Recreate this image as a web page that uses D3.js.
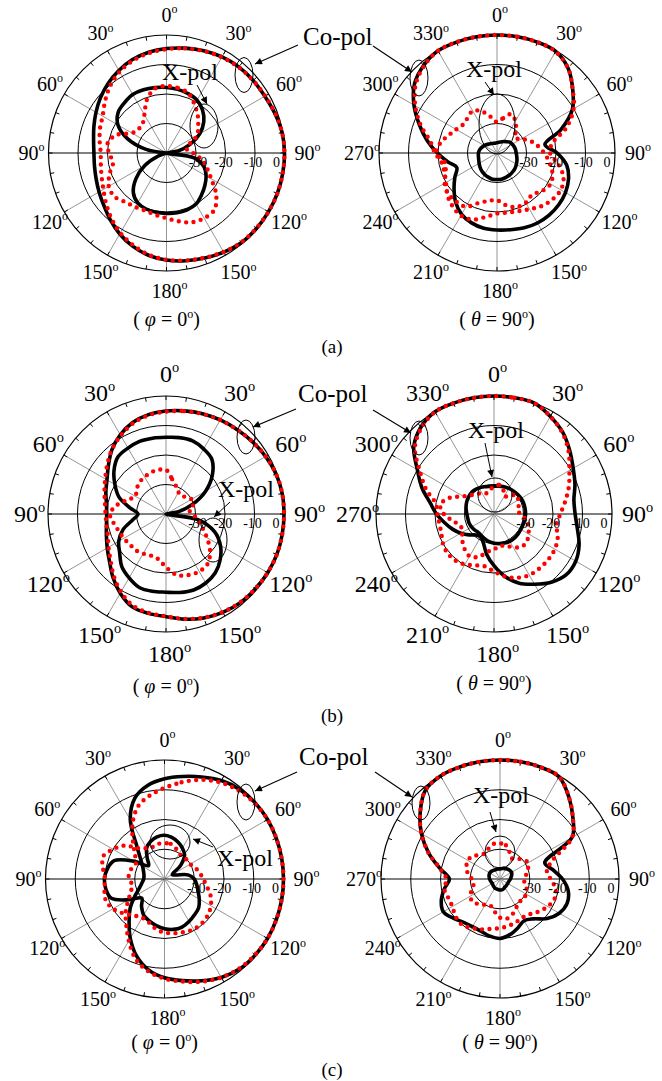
<!DOCTYPE html>
<html><head><meta charset="utf-8">
<script src="https://cdn.jsdelivr.net/npm/d3@7"></script>
<style>body{margin:0;background:#fff}svg{display:block}text{font-family:"Liberation Serif","Times New Roman",Tinos,serif}</style>
</head><body>
<script>
// ---------- DATA ----------
const ANGLES = [0,10,20,30,40,50,60,70,80,90,100,110,120,130,140,150,160,170,180,190,200,210,220,230,240,250,260,270,280,290,300,310,320,330,340,350];
const SPOKES = [0,30,60,90,120,150,180,210,240,270,300,330];
const TICKS10 = d3.range(0,360,10);
const DB_TICKS = [-30,-20,-10,0];
const DB_LABELS = ["-30","-20","-10","0"];

// (a) phi = 0
const aL_coSim  = [-4.6,-3.9,-3.1,-2.4,-1.9,-1.7,-1.5,-0.9,-0.2,0,0,0,-0.1,-0.2,-0.4,-1.2,-2.1,-2.9,-3.7,-4.8,-6.4,-8.3,-10.4,-12.3,-13.6,-14.6,-15.2,-15.4,-14.9,-13.8,-12.4,-10.8,-9.2,-7.7,-6.3,-5.3];
const aL_coMeas = [-4.8,-4,-3.2,-2.5,-2,-1.7,-1.4,-0.8,-0.2,0.1,0,0,-0.1,-0.3,-0.5,-1.3,-2.2,-3,-3.8,-5,-6.8,-8.7,-11,-13.3,-15.3,-16.6,-17.4,-17.7,-17,-16,-15,-12.8,-10.3,-8.2,-6.7,-5.6];
const aL_xSim   = [-17.8,-18.1,-18.6,-19.3,-21,-23.5,-27,-31.5,-36,-40,-30.5,-26.5,-24.5,-23,-21.5,-20,-19.5,-19.4,-19.5,-19.6,-19.8,-20.5,-22.5,-26.5,-31.5,-37,-40,-40,-33,-26,-21,-18.6,-17.8,-17.1,-17.2,-17.5];
const aL_xMeas  = [-17.3,-17.6,-18.4,-21,-23.5,-26,-28,-32,-33,-31,-28,-25.5,-22.5,-18,-14.8,-14.5,-15,-16.5,-17.9,-18.7,-19.2,-18.9,-18.3,-17,-17.4,-19.5,-21.6,-20.5,-19.8,-22,-26.5,-27.5,-27.3,-25,-20.7,-17.8];
// (a) theta = 90
const aR_coSim  = [0,0,0,-0.2,-2.5,-6.5,-10.5,-17,-23.5,-19.6,-16,-14.2,-13.2,-12.7,-12.5,-12.6,-13,-13.6,-13.9,-14.1,-14.8,-16,-18.2,-21,-23.5,-25.5,-23,-19.8,-16,-12,-7.5,-3.5,-1.3,0,0,0];
const aR_coMeas = [0,0,0,-0.3,-2.5,-6.5,-10,-15,-21,-22,-19,-16,-15,-15.5,-16.5,-18,-19,-19.5,-19.5,-18,-16,-15.5,-16.5,-18,-20,-21,-21,-19,-17,-12.5,-8,-4,-1.5,0,0,0];
const aR_xSim   = [-36.5,-36.3,-36,-35.5,-35,-34.3,-34,-33.8,-33.6,-33.5,-33.2,-32.8,-32.4,-32,-31.7,-31.4,-31.2,-31,-31,-31,-31.3,-31.6,-32,-32.5,-33,-33.4,-33.6,-33.7,-34,-34.5,-35,-35.5,-36,-36.3,-36.5,-36.6];
const aR_xMeas  = [-29.5,-28,-26,-27.5,-30,-32,-30.5,-28,-26,-24,-22,-20,-19,-20,-21.5,-20.5,-20.5,-22,-24,-23.5,-22,-19,-18.5,-18.5,-19.5,-21.5,-22,-19.5,-20.5,-22.5,-24,-25,-24.5,-23.5,-25,-27.5];
// (b) phi = 0
const bL_coSim  = [-5.1,-4.5,-3.8,-3.2,-2.6,-1.8,-1,-0.3,0,0,0,0,-0.2,-0.5,-0.8,-1.5,-2.5,-3.8,-5.2,-5.8,-6.5,-9,-12,-15,-17,-18.5,-19.5,-19.9,-19.5,-18.3,-16.9,-14.5,-11.5,-9,-7,-5.8];
const bL_coMeas = [-5.3,-4.6,-3.9,-3.2,-2.6,-1.8,-1,-0.3,0,0.2,0.1,0,-0.2,-0.5,-0.9,-1.6,-2.6,-3.9,-5.3,-6,-7,-9.5,-12.5,-15.5,-17.5,-19,-19.5,-19.5,-19,-17.8,-16.2,-14,-11.5,-9.3,-7.3,-6];
const bL_xSim   = [-14,-13.7,-13.6,-14.5,-15.8,-19.5,-24.5,-30.5,-36,-40,-29,-22.5,-18.7,-16,-14,-13,-12.6,-13,-13.5,-13.4,-13.5,-15,-16.7,-19.5,-21.5,-24.5,-28.5,-30.5,-27.5,-23,-20,-17,-14.7,-14.2,-13.8,-13.9];
const bL_xMeas  = [-25,-28,-30,-31.5,-32,-31,-30,-30,-32,-31,-29,-27,-24,-20.5,-18,-17.5,-18,-19,-22,-24.5,-25,-24.5,-24,-24,-23.5,-23,-22,-21,-23,-26,-28,-27,-26,-25.5,-25,-24.8];
// (b) theta = 90
const bR_coSim  = [0,0,0,-1.8,-3.8,-6.5,-9,-10.8,-12.5,-12.5,-11.3,-9.3,-8,-8,-9.8,-12.5,-15,-18.5,-22.5,-26,-29.5,-31,-30.7,-29,-27,-25,-23,-20.5,-18,-14,-10,-4.5,-1.5,0,0,0];
const bR_coMeas = [0,0,0,-1.8,-4,-7,-10.5,-13,-15.5,-17.5,-18.5,-17,-16.2,-16,-16,-16.1,-17,-18.5,-20.5,-22,-21.5,-20.3,-19.5,-19.4,-20,-21,-21.2,-20.8,-20,-15.5,-11,-5,-1.8,0,0,0];
const bR_xSim   = [-30.6,-30.4,-30.2,-30,-29.8,-29.6,-29.4,-29.3,-29.3,-29.3,-29.4,-29.5,-29.5,-29.4,-29.3,-29.3,-29.5,-29.8,-30.1,-30.5,-31,-31.5,-31.8,-31.5,-31.2,-31,-31,-30.8,-30.4,-30,-29.7,-29.5,-29.5,-29.8,-30.2,-30.5];
const bR_xMeas  = [-31,-30,-31,-33,-32,-30,-30.5,-31,-32,-31,-29,-27.5,-26.5,-25.5,-25.5,-27,-28.5,-29,-28,-27,-24.5,-23.5,-24.5,-26,-27.5,-28,-26,-23,-21.5,-24,-28,-30,-31,-32,-32.5,-31.5];
// (c) phi = 0
const cL_coSim  = [-6.3,-5,-3.5,-1.8,-0.7,-0.2,0,0,0,0,0,0,0,-0.2,-0.6,-1.8,-3.6,-5.3,-6.8,-9,-12.5,-17,-21.5,-25,-28.5,-31,-32.3,-33,-33,-32.5,-31.5,-29.5,-25.5,-17,-11,-8];
const cL_coMeas = [-9.4,-7,-4.5,-2.5,-1.2,-0.4,0,0,0.3,0.3,0.2,0,0,-0.3,-0.8,-1.8,-3.3,-5,-6.5,-8.5,-11.5,-16,-20,-23,-26,-28,-29,-28,-28,-28.5,-29,-27,-23.5,-18.5,-14,-11.5];
const cL_xSim   = [-25.3,-25.8,-26.8,-28,-29.5,-33,-37,-36,-32,-30,-29,-28,-26.5,-25,-24.3,-23.5,-22.8,-22.8,-23.3,-24.1,-25,-26,-28,-30,-26,-21,-20,-19.8,-20.5,-22,-28,-33,-31,-28,-26.5,-25.6];
const cL_xMeas  = [-28,-28,-29,-30,-30.5,-30,-30,-29,-28,-27,-25.5,-23.5,-22,-21,-20.5,-20.5,-21,-21.5,-22,-23,-24.5,-25,-24,-22,-20,-19,-19.5,-20,-19,-18,-20,-22.5,-26.5,-28,-28.5,-28];
// (c) theta = 90
const cR_coSim  = [0,0,0,-0.3,-4,-8,-12,-24,-22,-19,-16.7,-16,-17,-19.3,-22.5,-23.8,-22.5,-21,-20,-20.5,-21.3,-21.5,-21,-19.5,-18,-19,-21,-23,-19.5,-14.5,-9.5,-5,-1,0,0,0];
const cR_coMeas = [0,0,0,-0.3,-4,-8,-12,-21,-24,-23,-21,-20.5,-21.5,-23,-24.5,-25,-24.5,-24,-23.5,-23,-22,-21,-20,-20.5,-21.5,-21.5,-21,-22,-19.5,-14.5,-9.5,-5,-1,0,0,0];
const cR_xSim   = [-36.6,-36.4,-36.2,-36,-35.8,-35.6,-35.5,-35.8,-36.2,-36.5,-36.8,-37,-37,-37,-36.9,-36.8,-36.5,-36.3,-36.3,-36.4,-36.5,-36.5,-36.7,-36.9,-37,-36.9,-36.7,-36.5,-36.3,-36.1,-36,-36.1,-36.3,-36.5,-36.6,-36.6];
const cR_xMeas  = [-28,-28.5,-30.5,-32,-31,-30,-29,-30,-31,-32,-31.5,-30.5,-30,-29.5,-30,-29,-27.5,-26.5,-27,-29,-30.5,-30,-29,-28,-28.5,-30,-31,-30.5,-29,-28,-27.5,-28,-29.5,-30,-29,-28];

// ---------- LAYOUT ----------
const FONT = '"Liberation Serif","Times New Roman",Tinos,serif';
const W = 662, H = 1081;
const svg = d3.select("body").append("svg").attr("width", W).attr("height", H);

const defs = svg.append("defs");
defs.append("marker").attr("id","arr").attr("viewBox","0 0 10 10")
  .attr("refX",10).attr("refY",5).attr("markerWidth",9).attr("markerHeight",7)
  .attr("markerUnits","userSpaceOnUse").attr("orient","auto")
  .append("path").attr("d","M0,0L10,5L0,10z").attr("fill","#000");

const plots = [
  {cx:166.5, cy:153, R:118, mirror:true,  fs:20, lr:20, series:[aL_coSim,aL_coMeas,aL_xSim,aL_xMeas], sym:"φ", val:"0",  capY:326},
  {cx:497,   cy:153, R:118, mirror:false, fs:20, lr:20, series:[aR_coSim,aR_coMeas,aR_xSim,aR_xMeas], sym:"θ", val:"90", capY:326},
  {cx:166,   cy:514, R:118, mirror:true,  fs:24, lr:22, series:[bL_coSim,bL_coMeas,bL_xSim,bL_xMeas], sym:"φ", val:"0",  capY:693},
  {cx:494,   cy:514, R:118, mirror:false, fs:24, lr:22, series:[bR_coSim,bR_coMeas,bR_xSim,bR_xMeas], sym:"θ", val:"90", capY:690},
  {cx:164.5, cy:879, R:119, mirror:true,  fs:20, lr:20, series:[cL_coSim,cL_coMeas,cL_xSim,cL_xMeas], sym:"φ", val:"0",  capY:1049},
  {cx:500,   cy:879, R:119, mirror:false, fs:20, lr:20, series:[cR_coSim,cR_coMeas,cR_xSim,cR_xMeas], sym:"θ", val:"90", capY:1049},
];

function txt(sel) { return sel.append("text").attr("font-family", FONT).attr("fill","#000"); }

function degLabel(g, x, y, str, fs) {
  const w = str.length * 0.5 * fs;
  const t = txt(g).attr("x", x - w/2).attr("y", y).attr("font-size", fs);
  t.append("tspan").text(str);
  t.append("tspan").attr("font-size", fs*0.6).attr("dy", -fs*0.42).text("o");
  return t;
}

plots.forEach(p => {
  const g = svg.append("g").attr("transform", `translate(${p.cx},${p.cy})`);
  const r = d3.scaleLinear().domain([-40, 0]).range([0, p.R]).clamp(true);
  const rad = a => a * Math.PI / 180;

  SPOKES.forEach(a => {
    const horiz = (a === 90 || a === 270);
    g.append("line").attr("x1",0).attr("y1",0)
      .attr("x2", p.R*Math.sin(rad(a))).attr("y2", -p.R*Math.cos(rad(a)))
      .attr("stroke", horiz ? "#000" : "#8a8a8a").attr("stroke-width", horiz ? 1 : 0.9);
  });
  DB_TICKS.forEach(d => {
    g.append("circle").attr("r", r(d)).attr("fill","none").attr("stroke","#000")
      .attr("stroke-width", d === 0 ? 1.2 : 1);
  });
  TICKS10.forEach(a => {
    const s = Math.sin(rad(a)), c = Math.cos(rad(a));
    g.append("line").attr("x1", p.R*s).attr("y1", -p.R*c)
      .attr("x2", (p.R-4)*s).attr("y2", -(p.R-4)*c).attr("stroke","#000").attr("stroke-width",1);
  });

  const line = d3.lineRadial().angle(d => rad(d[0])).radius(d => r(d[1]))
    .curve(d3.curveCatmullRomClosed.alpha(0.5));
  const [coSim, coMeas, xSim, xMeas] = p.series;
  const pts = arr => ANGLES.map((a,i) => [a, arr[i]]);
  [coSim, xSim].forEach(s => {
    g.append("path").attr("d", line(pts(s))).attr("fill","none")
      .attr("stroke","#000").attr("stroke-width",3.6).attr("stroke-linejoin","round");
  });
  [coMeas, xMeas].forEach(s => {
    g.append("path").attr("d", line(pts(s))).attr("fill","none")
      .attr("stroke","#ff0000").attr("stroke-width",4.4).attr("stroke-linecap","round")
      .attr("stroke-dasharray","0 7.4");
  });

  const offs = [2, -2, -2, -8];
  DB_TICKS.forEach((d,i) => {
    txt(g).attr("x", r(d) + offs[i]).attr("y", 14).attr("text-anchor","middle")
      .attr("font-size", 14).text(DB_LABELS[i]);
  });

  SPOKES.forEach(a => {
    const lbl = p.mirror ? (a <= 180 ? a : 360 - a) : a;
    const rr = p.R + p.lr;
    degLabel(g, rr*Math.sin(rad(a)), -rr*Math.cos(rad(a)) + p.fs*0.34, String(lbl), p.fs);
  });

  const fsC = 20;
  const t = txt(svg).attr("x", p.cx).attr("y", p.capY).attr("text-anchor","middle").attr("font-size", fsC);
  t.append("tspan").text("( ");
  t.append("tspan").attr("font-style","italic").text(p.sym);
  t.append("tspan").text(" = " + p.val);
  t.append("tspan").attr("font-size", fsC*0.6).attr("dy", -fsC*0.42).text("o");
  t.append("tspan").attr("dy", fsC*0.42).text(")");
});

[["(a)",347],["(b)",716],["(c)",1070]].forEach(([s,y]) => {
  txt(svg).attr("x",332).attr("y",y+6).attr("text-anchor","middle").attr("font-size",19).text(s);
});

const coPol = [
  {tx:303, ty:45,  l:[298,45,255,64],  rgt:[373,46,412,72],  e1:[244,75,9,17.5], e2:[419,78,9,18]},
  {tx:298, ty:402, l:[296,409,253,427], rgt:[373,410,411,433], e1:[246,437,9,17], e2:[419,438,9,17]},
  {tx:299, ty:765, l:[297,772,255,791], rgt:[375,772,412,797], e1:[246,802,9,18], e2:[421,803,9,17]},
];
coPol.forEach(c => {
  txt(svg).attr("x",c.tx).attr("y",c.ty).attr("font-size",25).text("Co-pol");
  [c.l, c.rgt].forEach(l => svg.append("line").attr("x1",l[0]).attr("y1",l[1]).attr("x2",l[2]).attr("y2",l[3])
    .attr("stroke","#000").attr("stroke-width",1.1).attr("marker-end","url(#arr)"));
  [c.e1, c.e2].forEach(e => svg.append("ellipse").attr("cx",e[0]).attr("cy",e[1]).attr("rx",e[2]).attr("ry",e[3])
    .attr("fill","none").attr("stroke","#000").attr("stroke-width",1));
});
const xPol = [
  {tx:162, ty:80,  a:[197,85,207,104],  e:[204,126,14,22]},
  {tx:466, ty:77,  a:[485,82,494,95],   e:[497,124,18,30]},
  {tx:218, ty:497, a:[230,502,214,517], e:[213,540,14,22]},
  {tx:468, ty:438, a:[485,443,492,477], e:[495,495,17,17]},
  {tx:217, ty:866, a:[213,847,193,839], e:[170,842,20,17]},
  {tx:473, ty:803, a:[490,812,496,832], e:[500,852,15,16]},
];
xPol.forEach(c => {
  txt(svg).attr("x",c.tx).attr("y",c.ty).attr("font-size",24).text("X-pol");
  svg.append("line").attr("x1",c.a[0]).attr("y1",c.a[1]).attr("x2",c.a[2]).attr("y2",c.a[3])
    .attr("stroke","#000").attr("stroke-width",1).attr("marker-end","url(#arr)");
  svg.append("ellipse").attr("cx",c.e[0]).attr("cy",c.e[1]).attr("rx",c.e[2]).attr("ry",c.e[3])
    .attr("fill","none").attr("stroke","#000").attr("stroke-width",1);
});
</script>
</body></html>
